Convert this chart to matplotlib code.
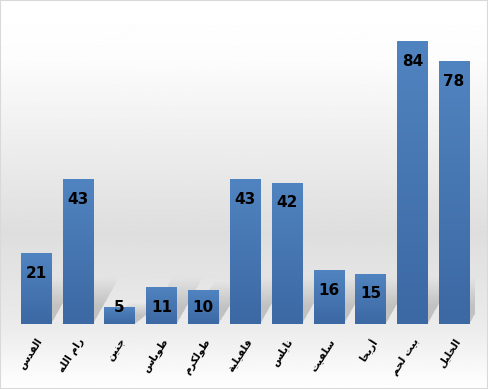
import numpy as np
import matplotlib
matplotlib.use("Agg")
import matplotlib.pyplot as plt
from matplotlib.patches import Rectangle, Polygon
from matplotlib.colors import LinearSegmentedColormap

# ---- data ----
categories = ["القدس", "رام الله", "جنين", "طوباس", "طولكرم", "قلقيلية",
              "نابلس", "سلفيت", "أريحا", "بيت لحم", "الخليل"]
values = [21, 43, 5, 11, 10, 43, 42, 16, 15, 84, 78]

# ---- minimal Arabic shaping (presentation forms) ----
FORMS = {  # isolated, final, initial, medial
    'ا': (0xFE8D, 0xFE8E, None, None),
    'أ': (0xFE83, 0xFE84, None, None),
    'ب': (0xFE8F, 0xFE90, 0xFE91, 0xFE92),
    'ة': (0xFE93, 0xFE94, None, None),
    'ت': (0xFE95, 0xFE96, 0xFE97, 0xFE98),
    'ج': (0xFE9D, 0xFE9E, 0xFE9F, 0xFEA0),
    'ح': (0xFEA1, 0xFEA2, 0xFEA3, 0xFEA4),
    'خ': (0xFEA5, 0xFEA6, 0xFEA7, 0xFEA8),
    'د': (0xFEA9, 0xFEAA, None, None),
    'ر': (0xFEAD, 0xFEAE, None, None),
    'س': (0xFEB1, 0xFEB2, 0xFEB3, 0xFEB4),
    'ط': (0xFEC1, 0xFEC2, 0xFEC3, 0xFEC4),
    'ف': (0xFED1, 0xFED2, 0xFED3, 0xFED4),
    'ق': (0xFED5, 0xFED6, 0xFED7, 0xFED8),
    'ك': (0xFED9, 0xFEDA, 0xFEDB, 0xFEDC),
    'ل': (0xFEDD, 0xFEDE, 0xFEDF, 0xFEE0),
    'م': (0xFEE1, 0xFEE2, 0xFEE3, 0xFEE4),
    'ن': (0xFEE5, 0xFEE6, 0xFEE7, 0xFEE8),
    'ه': (0xFEE9, 0xFEEA, 0xFEEB, 0xFEEC),
    'و': (0xFEED, 0xFEEE, None, None),
    'ي': (0xFEF1, 0xFEF2, 0xFEF3, 0xFEF4),
}


def dual(c):
    return c in FORMS and FORMS[c][2] is not None


def shape(word):
    out = []
    for i, c in enumerate(word):
        if c not in FORMS:
            out.append(c)
            continue
        prev = word[i - 1] if i > 0 else None
        nxt = word[i + 1] if i + 1 < len(word) else None
        jp = prev is not None and dual(prev)
        jn = nxt is not None and nxt in FORMS and dual(c)
        iso, fin, ini, med = FORMS[c]
        if jp and jn:
            cp = med
        elif jp:
            cp = fin
        elif jn:
            cp = ini
        else:
            cp = iso
        out.append(chr(cp))
    return "".join(out)[::-1]


W, H = 488, 389
fig = plt.figure(figsize=(W / 100, H / 100), dpi=100)

# background gradient
bg = fig.add_axes([0, 0, 1, 1], zorder=-10)
bg.set_axis_off()
ys = np.linspace(0, 1, 400)  # 0 = top
stops_y = [0.0, 0.15, 0.6, 0.833, 1.0]
stops_c = [1.0, 0.99, 0.87, 0.92, 1.0]
grad = np.interp(ys, stops_y, stops_c)[:, None]
bg.imshow(np.repeat(grad, 2, axis=1), cmap="gray", vmin=0, vmax=1,
          aspect="auto", extent=[0, 1, 0, 1], origin="upper")
bg.set_xlim(0, 1)
bg.set_ylim(0, 1)

ax = fig.add_axes([15 / W, 65 / H, 460 / W, 303 / H])
ax.patch.set_alpha(0)
x = np.arange(len(categories))
width = 0.72
bars = ax.bar(x, values, width=width, color="#4a7ebb", zorder=3)

# soft perspective shadows
for b in bars:
    x0, w, h = b.get_x(), b.get_width(), b.get_height()
    xr = x0 + w
    hs = min(h, 11)
    for k in range(14):
        s = 1.25 - k * 0.06
        d = 0.5 * s
        hh = hs * s
        poly = Polygon([(xr - w, 0), (xr, 0), (xr + d, hh), (xr - w + d, hh)],
                       closed=True, facecolor="#707070", edgecolor="none",
                       alpha=0.025, zorder=2)
        ax.add_patch(poly)

# vertical gradient on bars
bar_cmap = LinearSegmentedColormap.from_list("b", ["#3c68a3", "#5084c0"])
gimg = np.linspace(0, 1, 256)[:, None]
for b in bars:
    x0, w, h = b.get_x(), b.get_width(), b.get_height()
    im = ax.imshow(gimg, cmap=bar_cmap, aspect="auto", origin="lower",
                   extent=[x0, x0 + w, 0, h], zorder=4)
    im.set_clip_path(b)

for xi, v in zip(x, values):
    ax.text(xi, max(v - 6, 5), str(v), ha="center", va="center",
            fontsize=11, fontweight="bold", family="Liberation Sans Narrow",
            color="black", zorder=6)

ax.set_xlim(-0.5, len(categories) - 0.5)
ax.set_ylim(0, 90)
ax.set_yticks([])
ax.set_xticks(x)
ax.set_xticklabels([shape(c) for c in categories], rotation=57,
                   ha="right", va="top", rotation_mode="anchor",
                   fontsize=7.5, fontweight="bold", family="DejaVu Sans")
ax.tick_params(axis="x", length=0, pad=9)
for s in ax.spines.values():
    s.set_visible(False)

fig.patches.append(Rectangle((0, 0), 1, 1, transform=fig.transFigure,
                             fill=False, edgecolor="#d9d9d9", linewidth=1.5))

fig.savefig("out.png", dpi=100)
